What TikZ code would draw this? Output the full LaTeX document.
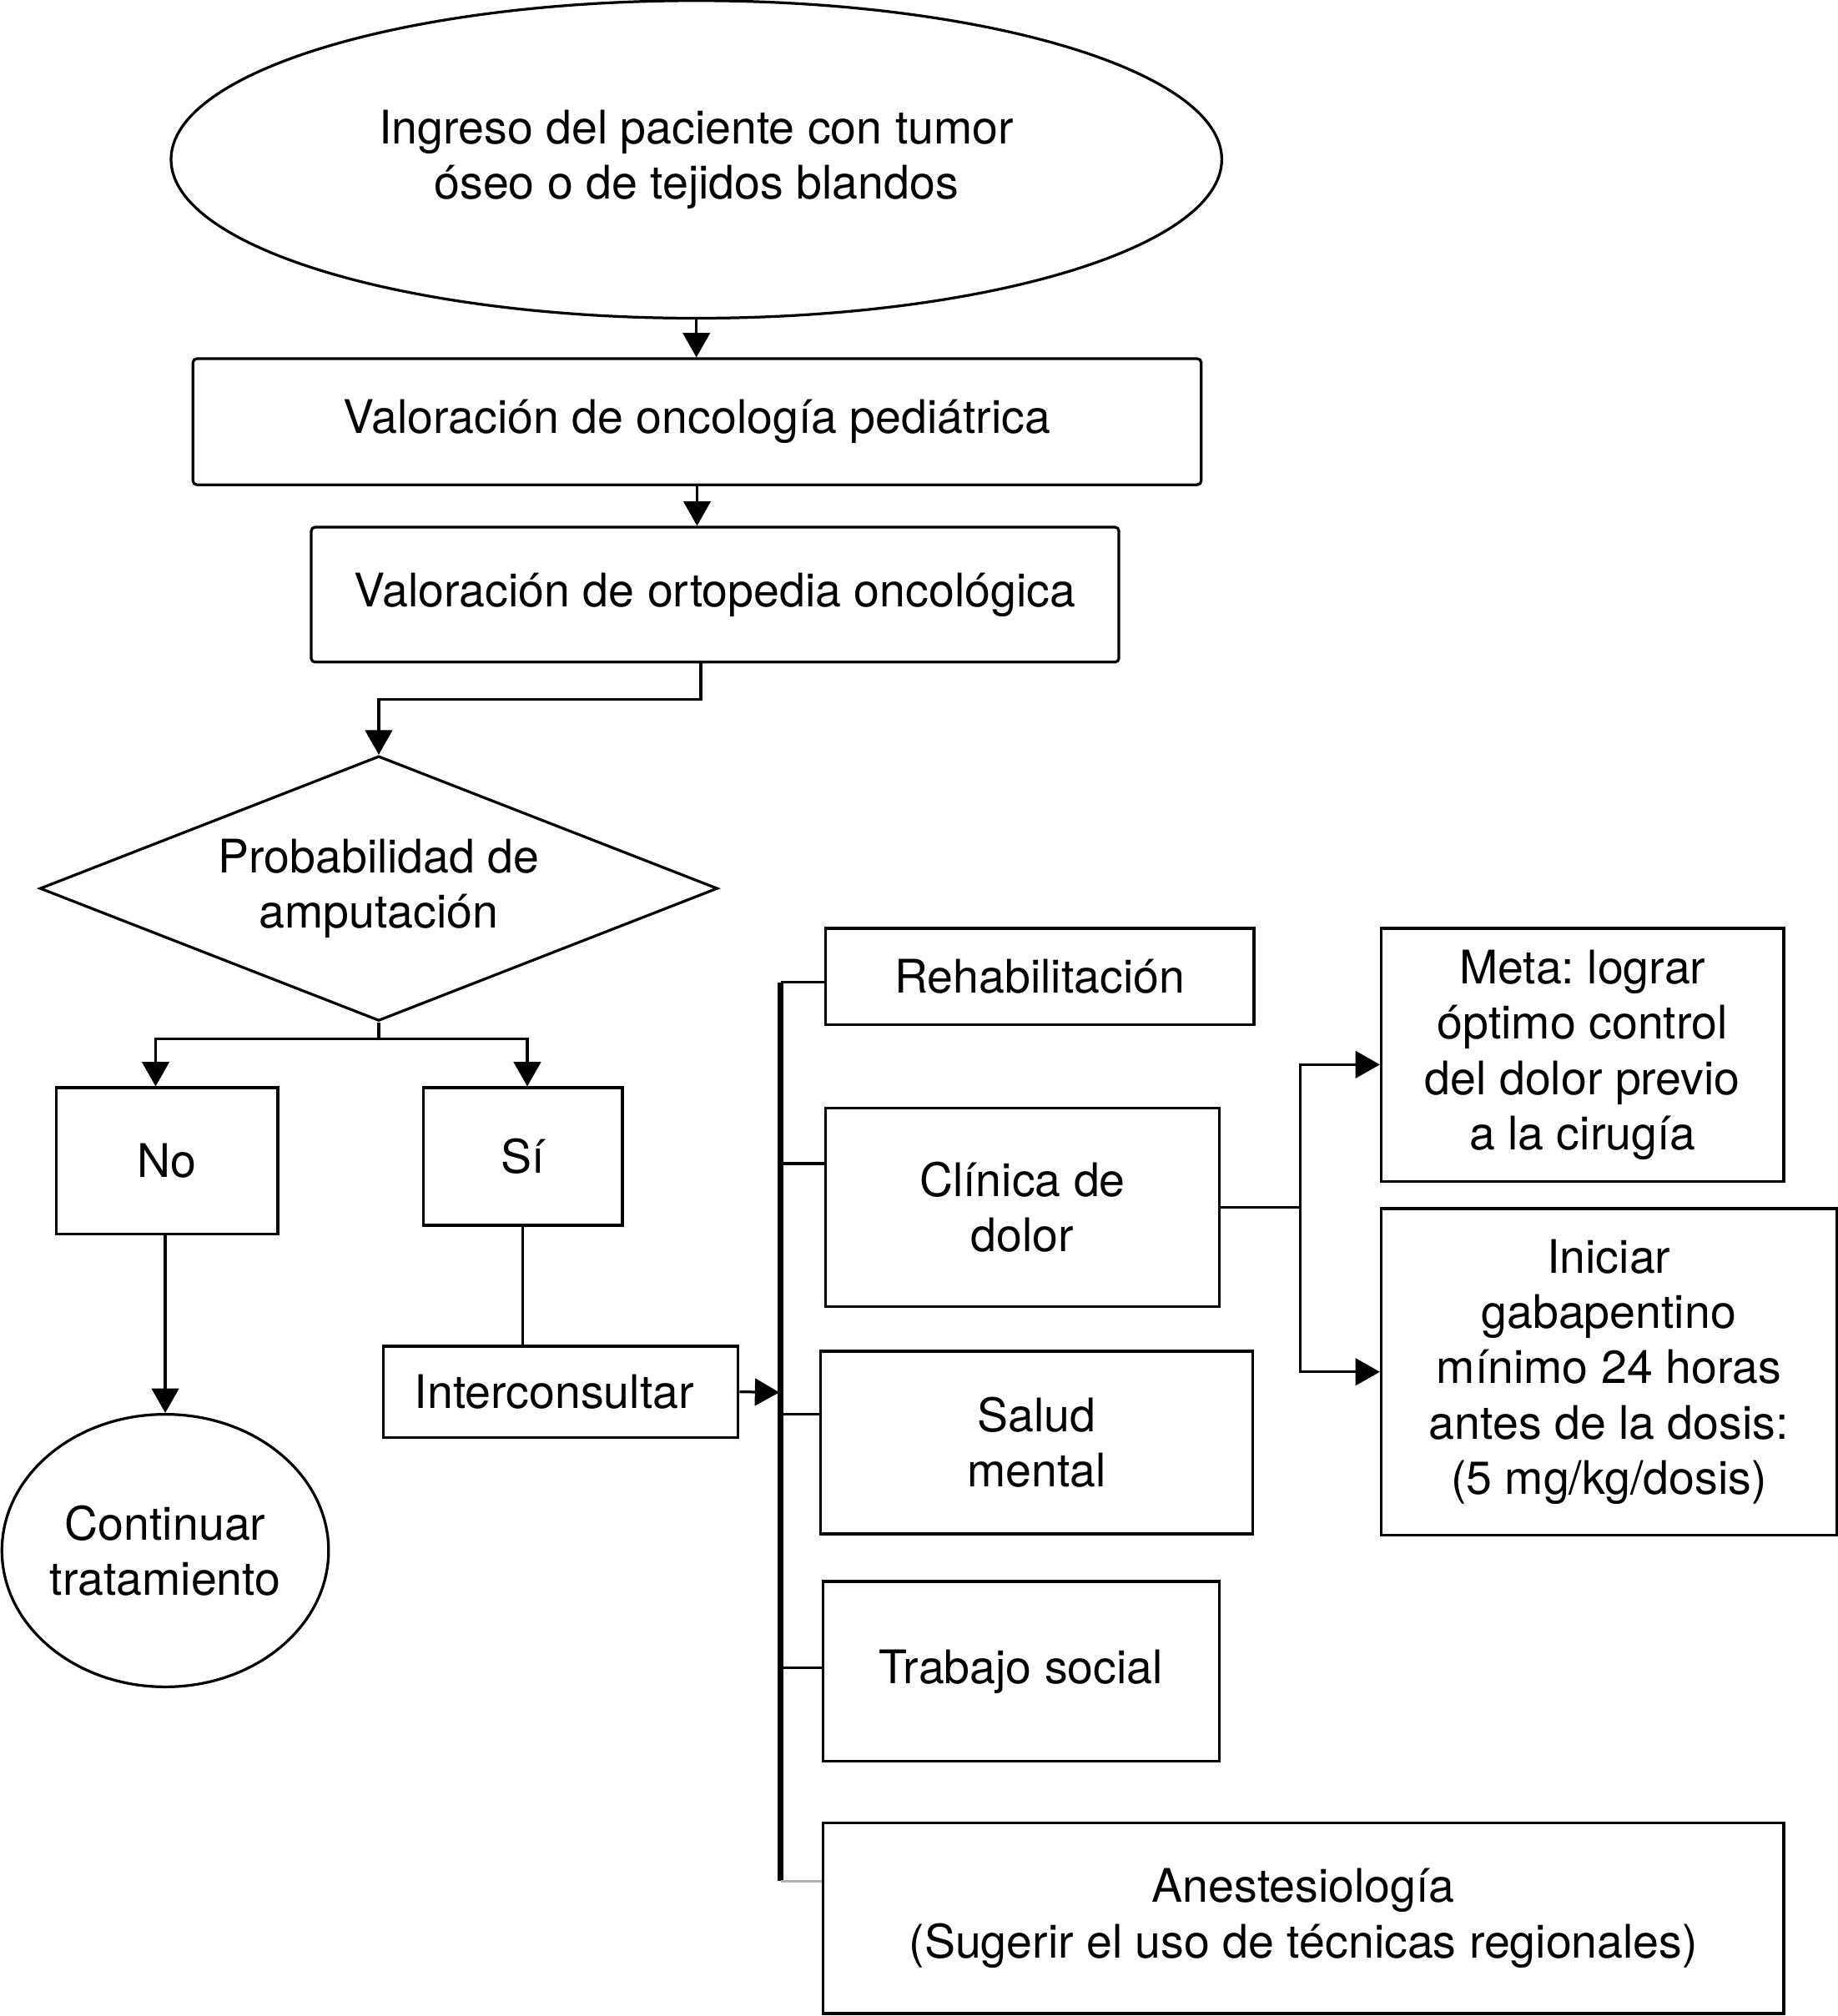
\documentclass[tikz,border=0pt]{standalone}
\usepackage{fontspec}
\setmainfont{TeX Gyre Heros}
\usetikzlibrary{arrows.meta,shapes.geometric}
\frenchspacing
\begin{document}
\begin{tikzpicture}[x=0.5pt,y=-0.5pt,
  font=\frenchspacing\fontsize{18pt}{21.5pt}\selectfont,
  box/.style={draw, line width=1.05pt, rectangle, inner sep=0pt, align=center},
  rbox/.style={box, rounded corners=1.5pt},
  oval/.style={draw, line width=1.05pt, ellipse, inner sep=0pt, align=center},
  dec/.style={draw, line width=1.05pt, diamond, inner sep=0pt, align=center, shape aspect=2.56},
  conn/.style={line width=1.05pt},
  arr/.style={line width=1.05pt, -{Triangle[length=9.5pt,width=10.5pt]}},
  bus/.style={line width=2.2pt},
]
\useasboundingbox (0,0) rectangle (1429,1568);

% nodes
\node[oval, minimum width=408.5pt, minimum height=123.5pt] (ell) at (541.5,124)
  {Ingreso del paciente con tumor\\óseo o de tejidos blandos};
\node[rbox, minimum width=392pt, minimum height=49pt] (b1) at (542,328)
  {Valoración de oncología pediátrica};
\node[rbox, minimum width=314pt, minimum height=52.5pt] (b2) at (556,462.5)
  {Valoración de ortopedia oncológica};
\node[dec, minimum width=263.5pt, minimum height=103pt] (dia) at (294.5,691)
  {Probabilidad de\\amputación};
\node[box, minimum width=86pt, minimum height=57pt] (no) at (130,903) {No};
\node[box, minimum width=77.5pt, minimum height=53.5pt] (si) at (406.5,899.5) {Sí};
\node[oval, minimum width=127pt, minimum height=106pt] (cont) at (128.5,1206)
  {Continuar\\tratamiento};
\node[box, minimum width=138pt, minimum height=35.5pt] (inter) at (436,1082.5)
  {\hspace*{-5pt}Interconsultar};
\node[box, minimum width=166.5pt, minimum height=37.5pt] (rehab) at (808.5,759.5)
  {Rehabilitación};
\node[box, minimum width=153pt, minimum height=77pt] (clin) at (795,939)
  {Clínica de\\dolor};
\node[box, minimum width=168pt, minimum height=71pt] (salud) at (806,1122)
  {Salud\\mental};
\node[box, minimum width=154pt, minimum height=70pt] (trab) at (794,1300)
  {Trabajo social};
\node[box, minimum width=373.5pt, minimum height=74pt] (anes) at (1013.5,1492)
  {Anestesiología\\(Sugerir el uso de técnicas regionales)};
\node[box, minimum width=156.5pt, minimum height=98.5pt] (meta) at (1230.5,820.5)
  {Meta: lograr\\óptimo control\\del dolor previo\\a la cirugía};
\node[box, minimum width=177pt, minimum height=127pt] (ini) at (1251,1067)
  {Iniciar\\gabapentino\\mínimo 24 horas\\antes de la dosis:\\(5 mg/kg/dosis)};

% coordinates
\coordinate (c1) at (545,544);
\coordinate (j) at (294.5,808);
\coordinate (busTop) at (607,764);
\coordinate (busBot) at (607,1463);
\coordinate (busIn) at (606,1083);
\coordinate (split) at (1011,939);
\coordinate (m1) at (1011,828);

% connectors top
\draw[arr] (ell.south) -- (ell.south |- b1.north);
\draw[arr] (b1.south) -- (b1.south |- b2.north);
\draw[arr] (c1 |- b2.south) -- (c1) -| (dia.north);
\draw[conn] (dia.south) -- (j);
\draw[arr] (j) -| ([xshift=-4.5pt]no.north);
\draw[arr] (j) -| ([xshift=1.75pt]si.north);
\draw[arr] (no.south -| cont.north) -- (cont.north);
\draw[conn] (si.south) -- (si.south |- inter.north);
\draw[arr] (inter.east) -- (busIn);

% bus
\draw[bus] (busTop) -- (busBot);
\draw[conn] (busTop) -- (busTop -| rehab.west);
\draw[conn] (607,905) -- (clin.west |- 0,905);
\draw[conn] (607,1100) -- (salud.west |- 0,1100);
\draw[conn] (607,1297) -- (trab.west |- 0,1297);
\draw[conn, gray!60] (busBot) -- (busBot -| anes.west);

% pain clinic branches
\draw[conn] (clin.east) -- (split);
\draw[arr] (split) -- (m1) -- (m1 -| meta.west);
\draw[arr] (split) |- (ini.west);
\end{tikzpicture}
\end{document}
